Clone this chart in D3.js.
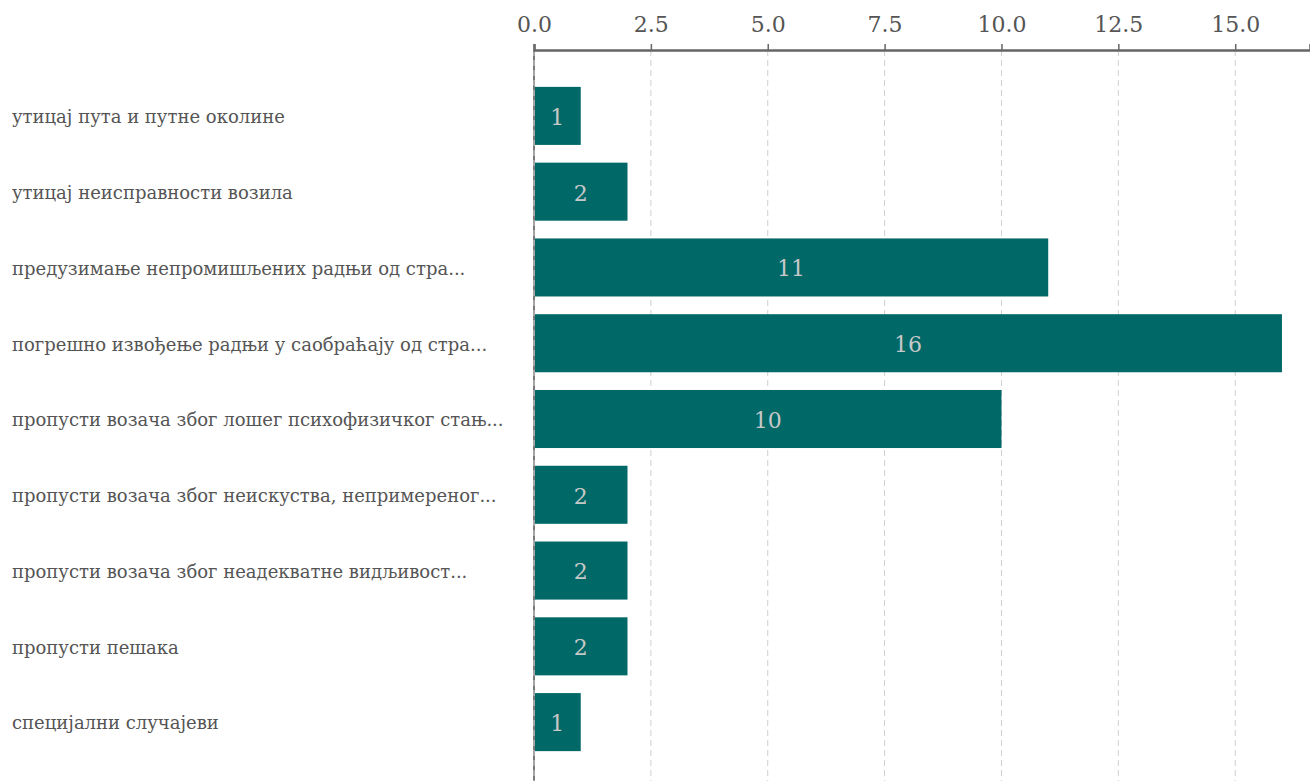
<!DOCTYPE html>
<html><head><meta charset="utf-8">
<script src="https://cdn.jsdelivr.net/npm/d3@7"></script>
<style>body{margin:0;background:#fff}svg{display:block}</style>
</head><body>
<svg id="c" width="1310" height="781"></svg>
<script>
const categories = [
  "утицај пута и путне околине",
  "утицај неисправности возила",
  "предузимање непромишљених радњи од стра...",
  "погрешно извођење радњи у саобраћају од стра...",
  "пропусти возача због лошег психофизичког стањ...",
  "пропусти возача због неискуства, непримереног...",
  "пропусти возача због неадекватне видљивост...",
  "пропусти пешака",
  "специјални случајеви"
];
const values = [1, 2, 11, 16, 10, 2, 2, 2, 1];
const tickValues = [0, 2.5, 5, 7.5, 10, 12.5, 15];

const svg = d3.select("#c");
const W = 1310, H = 781;
const font = "'DejaVu Serif', serif";
const x = d3.scaleLinear().domain([0, 16.6]).range([534, 1310]);
const y = d3.scaleBand().domain(categories).range([78, 760]).paddingInner(0.234).paddingOuter(0.117);

// grid
svg.append("g").selectAll("line").data(tickValues.filter(d => d > 0)).join("line")
  .attr("x1", d => x(d)).attr("x2", d => x(d)).attr("y1", 50).attr("y2", H)
  .attr("stroke", "#cfcfcf").attr("stroke-width", 1).attr("stroke-dasharray", "6,4");

// bars
svg.append("g").selectAll("rect").data(values).join("rect")
  .attr("x", x(0)).attr("y", (d, i) => y(categories[i]))
  .attr("width", d => x(d) - x(0)).attr("height", y.bandwidth())
  .attr("fill", "#016868");

svg.append("g").selectAll("text").data(values).join("text")
  .attr("x", d => (x(0) + x(d)) / 2).attr("y", (d, i) => y(categories[i]) + y.bandwidth() / 2 + 1)
  .attr("dy", "0.36em").attr("text-anchor", "middle")
  .attr("fill", "#c8c8c8").style("font-family", font).style("font-size", "22px")
  .text(d => d);

// zero line
svg.append("line").attr("x1", x(0)).attr("x2", x(0)).attr("y1", 50).attr("y2", H)
  .attr("stroke", "#7a7a7a").attr("stroke-width", 2);
svg.append("line").attr("x1", x(0)).attr("x2", x(0)).attr("y1", 50).attr("y2", H)
  .attr("stroke", "#d0d0d0").attr("stroke-width", 1).attr("stroke-dasharray", "6,4");

// top axis
const ax = svg.append("g").attr("transform", "translate(0,50)")
  .call(d3.axisTop(x).tickValues(tickValues).tickFormat(d3.format(".1f")).tickSize(6).tickPadding(12));
ax.select(".domain").attr("stroke", "#666").attr("stroke-width", 2.5);
ax.selectAll(".tick line").attr("stroke", "#666").attr("stroke-width", 1.5);
ax.selectAll(".tick text").attr("fill", "#555").style("font-family", font).style("font-size", "22px");

// category labels
svg.append("g").selectAll("text").data(categories).join("text")
  .attr("x", 12).attr("y", d => y(d) + y.bandwidth() / 2 + 1).attr("dy", "0.35em")
  .attr("fill", "#555").style("font-family", font).style("font-size", "18px")
  .text(d => d);
</script>
</body></html>
